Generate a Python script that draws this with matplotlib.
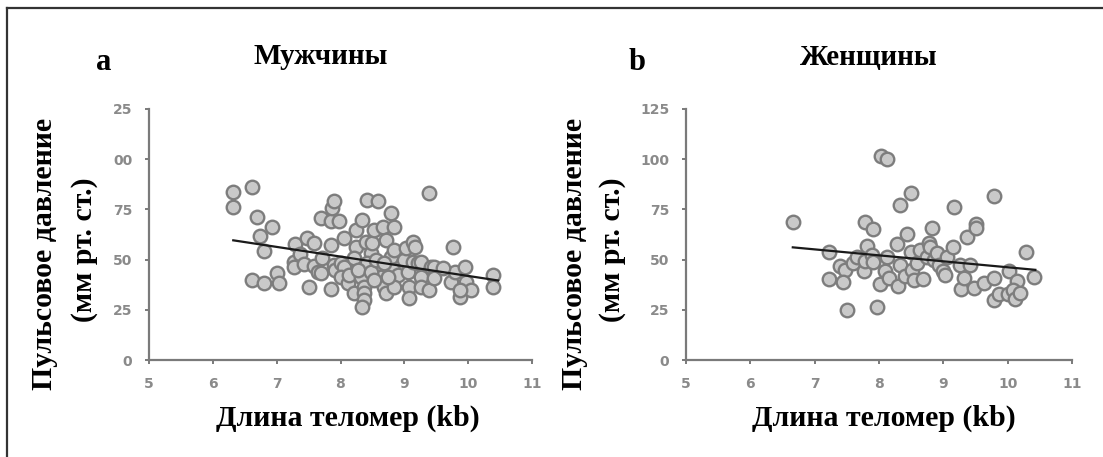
import matplotlib
matplotlib.use("Agg")
import matplotlib.pyplot as plt
from matplotlib.lines import Line2D

# ---------------- data ----------------
men_x = [6.32, 6.32, 6.61, 6.69, 6.74, 6.80, 6.93, 6.61, 6.80, 7.01, 7.03, 7.29, 7.48, 7.58,
         7.27, 7.27, 7.37, 7.50, 7.43, 7.58, 7.64, 7.69, 7.71, 7.69, 7.85, 7.85, 7.87, 7.90,
         7.98, 7.85, 7.90, 7.92, 8.00, 8.06, 8.06, 8.00, 8.11, 8.13, 8.21, 8.24, 8.24, 8.34,
         8.32, 8.37, 8.37, 8.37, 8.34, 8.40, 8.47, 8.42, 8.42, 8.58, 8.50, 8.53, 8.66, 8.71,
         8.58, 8.63, 8.68, 8.71, 8.79, 8.84, 8.79, 8.84, 8.82, 8.90, 8.84, 9.00, 9.03, 9.05,
         9.08, 9.08, 9.13, 9.16, 9.13, 9.21, 9.26, 9.26, 9.26, 9.39, 9.39, 9.42, 9.47, 9.47,
         9.73, 9.76, 9.79, 9.87, 9.95, 9.97, 10.05, 10.39, 10.39, 9.87, 9.60, 8.21, 8.27,
         8.47, 8.55, 8.68, 8.74, 8.53]
men_y = [83.9, 76.4, 86.4, 71.4, 62.0, 54.5, 66.4, 39.9, 38.2, 43.5, 38.5, 57.8, 60.6, 58.5,
         49.0, 46.5, 53.0, 36.5, 48.0, 47.0, 44.0, 43.2, 50.7, 70.6, 57.3, 69.0, 75.6, 79.4,
         69.4, 35.2, 47.3, 44.9, 48.2, 60.6, 46.5, 41.5, 38.2, 42.4, 33.6, 56.5, 64.8, 69.8,
         41.5, 36.5, 33.2, 29.9, 26.2, 59.0, 53.2, 48.2, 79.7, 79.4, 58.1, 64.8, 66.1, 59.8,
         46.5, 41.5, 36.5, 33.2, 73.4, 66.1, 51.5, 54.8, 44.9, 42.4, 36.5, 49.8, 55.6, 44.0,
         36.5, 31.1, 59.0, 56.5, 49.0, 48.2, 49.0, 41.5, 36.5, 83.4, 34.9, 46.5, 46.5, 40.7,
         39.0, 56.5, 44.0, 31.6, 46.5, 39.0, 34.9, 42.4, 36.5, 34.9, 45.7, 50.7, 44.9,
         44.0, 49.8, 48.2, 41.5, 39.9]
men_line_x = [6.32, 10.47]
men_line_y = [59.6, 39.6]

women_x = [6.66, 7.23, 7.23, 7.40, 7.47, 7.44, 7.50, 7.60, 7.66, 7.76, 7.79, 7.81, 7.79, 7.91,
           7.89, 7.91, 7.97, 8.01, 8.03, 8.13, 8.10, 8.12, 8.15, 8.28, 8.30, 8.32, 8.33, 8.43,
           8.49, 8.41, 8.49, 8.51, 8.54, 8.59, 8.64, 8.68, 8.74, 8.77, 8.80, 8.82, 8.85, 8.90,
           8.93, 9.00, 9.03, 9.06, 9.15, 9.17, 9.26, 9.27, 9.32, 9.37, 9.42, 9.47, 9.50, 9.51,
           9.63, 9.78, 9.79, 9.78, 9.86, 10.02, 10.00, 10.14, 10.09, 10.12, 10.19, 10.29, 10.41]
women_y = [68.5, 53.7, 40.3, 46.6, 44.9, 38.6, 25.1, 48.2, 51.5, 44.1, 68.5, 57.0, 49.4, 65.1,
           52.3, 49.0, 26.4, 37.8, 101.4, 99.9, 44.1, 51.5, 40.8, 57.8, 36.7, 77.1, 47.4, 62.6,
           83.2, 41.6, 53.7, 44.9, 40.0, 48.2, 54.8, 40.5, 51.5, 58.1, 56.5, 65.9, 49.9, 53.2,
           47.4, 44.1, 42.1, 51.5, 56.5, 76.0, 47.1, 35.5, 40.8, 61.4, 47.1, 35.8, 67.7, 65.6,
           38.3, 40.8, 81.7, 30.1, 33.0, 44.1, 33.0, 39.1, 35.0, 30.5, 33.4, 53.7, 41.1]
women_line_x = [6.66, 10.43]
women_line_y = [56.1, 44.9]

x_ticks = [5, 6, 7, 8, 9, 10, 11]
x_ticklabels = ["5", "6", "7", "8", "9", "10", "11"]
y_ticks = [0, 25, 50, 75, 100, 125]
y_ticklabels_men = ["0", "25", "50", "75", "00", "25"]
y_ticklabels_women = ["0", "25", "50", "75", "100", "125"]

panel_letters = ["a", "b"]
titles = ["Мужчины", "Женщины"]
ylabel_1 = "Пульсовое давление"
ylabel_2 = "(мм рт. ст.)"
xlabel = "Длина теломер (kb)"

# ---------------- figure ----------------
W, H = 1103, 457
fig = plt.figure(figsize=(W / 100, H / 100), dpi=100)

def fx(px):
    return px / W

def fy(py):
    return 1 - py / H

serif = "Liberation Serif"
axis_col = "#7a7a7a"
tick_col = "#8a8a8a"

panels = [
    dict(left=149, right=532, x=men_x, y=men_y, lx=men_line_x, ly=men_line_y,
         ylab=y_ticklabels_men),
    dict(left=686, right=1072, x=women_x, y=women_y, lx=women_line_x, ly=women_line_y,
         ylab=y_ticklabels_women),
]
top_px, bot_px = 109, 360

for i, p in enumerate(panels):
    ax = fig.add_axes([fx(p["left"]), fy(bot_px), (p["right"] - p["left"]) / W,
                       (bot_px - top_px) / H])
    ax.scatter(p["x"], p["y"], s=95, facecolor="#c9c9c9", edgecolor="#7d7d7d",
               linewidths=1.7, zorder=3, clip_on=False)
    ax.plot(p["lx"], p["ly"], color="#1a1a1a", lw=1.6, zorder=4)
    ax.set_xlim(5, 11)
    ax.set_ylim(0, 125)
    for s in ["top", "right"]:
        ax.spines[s].set_visible(False)
    for s in ["left", "bottom"]:
        ax.spines[s].set_color(axis_col)
        ax.spines[s].set_linewidth(1.6)
    ax.set_xticks(x_ticks)
    ax.set_xticklabels(x_ticklabels)
    ax.set_yticks(y_ticks)
    ax.set_yticklabels(p["ylab"])
    ax.tick_params(axis="both", direction="out", length=3, width=1.4, color=axis_col,
                   labelcolor=tick_col, labelsize=10, pad=9)
    for lab in ax.get_xticklabels() + ax.get_yticklabels():
        lab.set_fontweight("bold")
    ax.set_facecolor("none")

    # texts
    off = p["left"] - 149
    fig.text(fx(104 + off - (4 if i else 0)), fy(62), panel_letters[i], family=serif,
             fontweight="bold", fontsize=22, ha="center", va="center")
    fig.text(fx(321 + off + (11 if i else 0)), fy(57), titles[i], family=serif,
             fontweight="bold", fontsize=21, ha="center", va="center")
    fig.text(fx(45 + off - (8 if i else 0)), fy(254), ylabel_1, family=serif,
             fontweight="bold", fontsize=21.5, rotation=90, ha="center", va="center")
    fig.text(fx(84 + off - (8 if i else 0)), fy(250), ylabel_2, family=serif,
             fontweight="bold", fontsize=21.5, rotation=90, ha="center", va="center")
    fig.text(fx(348 + off + (-1 if i else 0)), fy(418), xlabel, family=serif,
             fontweight="bold", fontsize=21.5, ha="center", va="center")

# outer frame (top & left visible, right/bottom off the image)
fig.add_artist(Line2D([fx(7), fx(1200)], [fy(8), fy(8)], color="#333333", lw=1.6,
                      transform=fig.transFigure))
fig.add_artist(Line2D([fx(7), fx(7)], [fy(8), fy(600)], color="#333333", lw=1.6,
                      transform=fig.transFigure))

fig.savefig("out.png", dpi=100)
